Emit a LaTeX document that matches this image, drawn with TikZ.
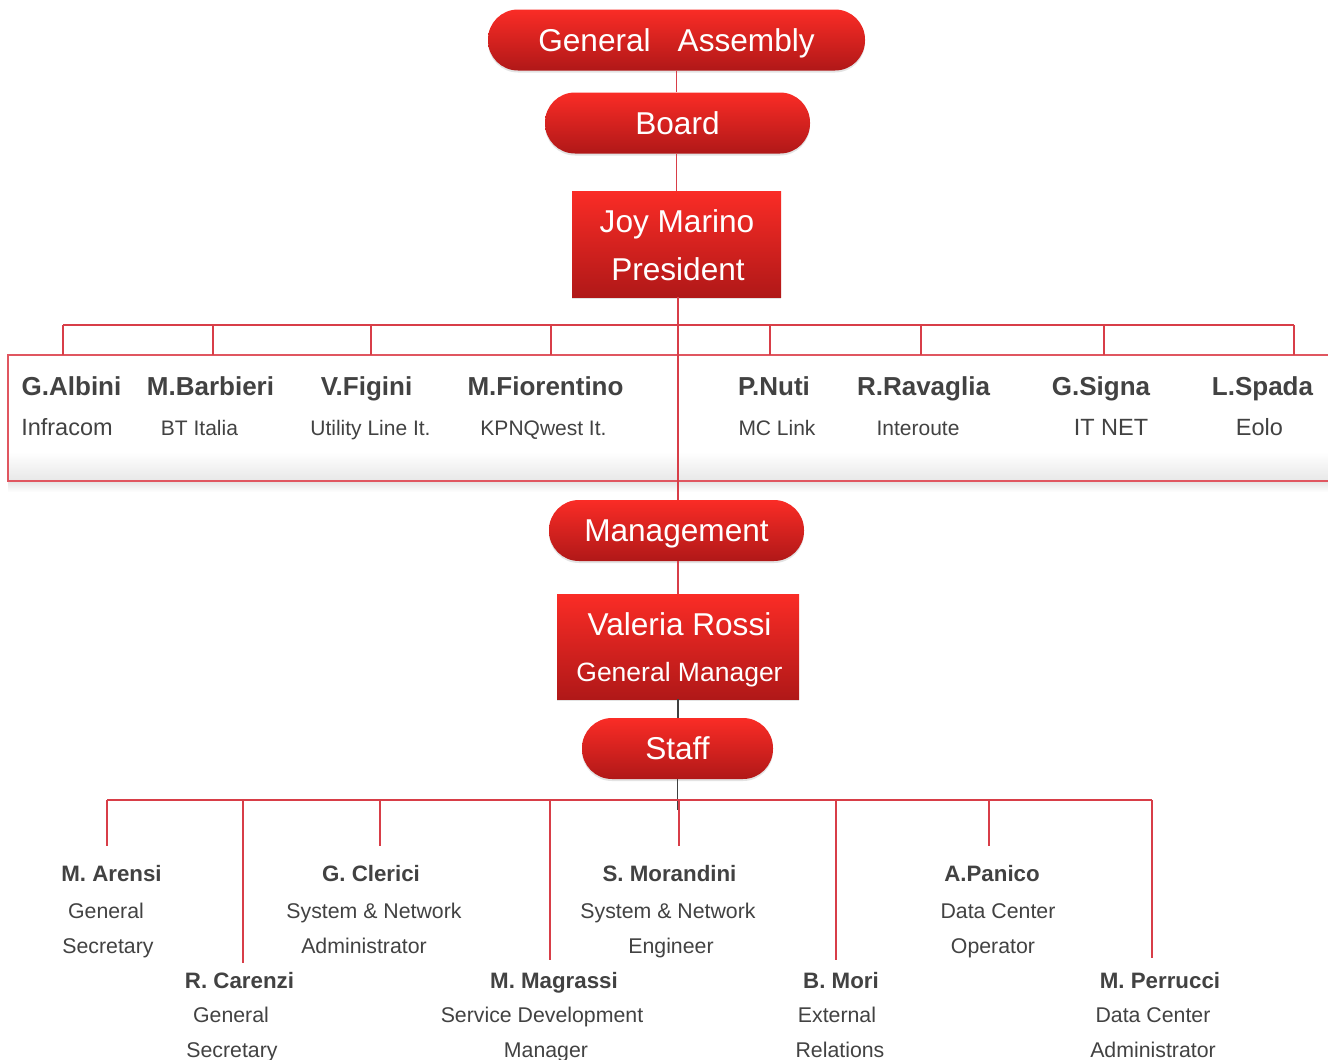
\documentclass[tikz,border=0pt]{standalone}
\usepackage{fontspec}
\setmainfont{Liberation Sans}
\usetikzlibrary{shadows}
\definecolor{redtop}{RGB}{250,44,38}
\definecolor{redbot}{RGB}{176,24,24}
\definecolor{linered}{RGB}{216,62,72}
\definecolor{boxred}{RGB}{224,86,96}
\definecolor{txt}{RGB}{66,66,66}
\begin{document}
\begin{tikzpicture}[x=1pt,y=-1pt,
  redshape/.style={top color=redtop,bottom color=redbot,draw=none,text=white,inner sep=0pt,
    drop shadow={shadow xshift=0pt,shadow yshift=-2pt,opacity=0.22}},
  pill/.style={redshape,rounded corners=30pt,minimum height=61pt,
    font=\fontsize{31.6}{36}\selectfont,text height=22pt,text depth=0pt},
  rbox/.style={redshape,minimum height=106pt},
  wt/.style={text=white,inner sep=0pt,anchor=base},
  conn/.style={draw=linered,line width=1.2pt},
  darkconn/.style={draw=black!75,line width=1.2pt},
  bname/.style={text=txt,inner sep=0pt,anchor=base,font=\fontsize{26}{30}\selectfont\bfseries},
  bcomp/.style={text=txt,inner sep=0pt,anchor=base,font=\fontsize{21}{25}\selectfont},
  bcompL/.style={bcomp,font=\fontsize{23.5}{27}\selectfont},
  sname/.style={text=txt,inner sep=0pt,anchor=base,font=\fontsize{22.3}{27}\selectfont\bfseries},
  ssub/.style={text=txt,inner sep=0pt,anchor=base,font=\fontsize{21.3}{25}\selectfont},
]
\useasboundingbox[fill=white] (0,0) rectangle (1328,1060);

% ---------- top red shapes ----------
\node[pill,minimum width=377pt] (ga) at (676.5,40) {General\hspace{27pt}Assembly};
\node[pill,minimum width=265pt] (board) at (677.5,123) {Board};
\node[rbox,minimum width=209pt] (joy) at (676.5,244) {};
\node[wt,font=\fontsize{31.6}{36}\selectfont] (joyname) at (677,232) {Joy Marino};
\node[wt,font=\fontsize{31.6}{36}\selectfont] (joyrole) at (678,280) {President};

% ---------- board members box ----------
\fill[top color=white,bottom color=black!9,draw=none] (9,452) rectangle (1335,480);
\fill[top color=black!10,bottom color=white,draw=none] (8,482) rectangle (1335,492);
\node[draw=boxred,line width=1.2pt,minimum width=1332pt,minimum height=126pt,inner sep=0pt] (members) at (674,418) {};

% connectors of the top part
\coordinate (axis) at (676.5,0);
\draw[conn] (ga.south -| axis) -- (board.north -| axis);
\draw[conn] (board.south -| axis) -- (joy.north -| axis);

% bus above members
\coordinate (busL) at (63,325);
\coordinate (busR) at (1294,325);
\draw[conn] (busL) -- (busR);
\foreach \x/\n in {63/a,213/b,371/c,551/d,770/e,921/f,1104/g,1294/h}{
  \coordinate (mt\n) at (\x,355);
  \draw[conn] (\x,325) -- (mt\n);
}

% member names
\node[bname] (albini) at (71.5,395) {G.Albini};
\node[bname] (barbieri) at (210.5,395) {M.Barbieri};
\node[bname] (figini) at (366.5,395) {V.Figini};
\node[bname] (fiorentino) at (545.5,395) {M.Fiorentino};
\node[bname] (nuti) at (774,395) {P.Nuti};
\node[bname] (ravaglia) at (923.5,395) {R.Ravaglia};
\node[bname] (signa) at (1101,395) {G.Signa};
\node[bname] (spada) at (1262.5,395) {L.Spada};

\node[bcompL] (infracom) at (67,435) {Infracom};
\node[bcomp] (bt) at (199.5,435) {BT Italia};
\node[bcomp] (utility) at (370.5,435) {Utility Line It.};
\node[bcomp] (kpn) at (543.5,435) {KPNQwest It.};
\node[bcomp] (mclink) at (777,435) {MC Link};
\node[bcomp] (interoute) at (918,435) {Interoute};
\node[bcompL] (itnet) at (1111,435) {IT NET};
\node[bcompL] (eolo) at (1259.5,435) {Eolo};

% ---------- management ----------
\node[pill,minimum width=255pt] (mgmt) at (676.5,530.5) {Management};
\coordinate (axisb) at (678,0);
\draw[conn] (joy.south -| axisb) -- (mgmt.north -| axisb);
\node[rbox,minimum width=242pt,minimum height=105pt] (valeria) at (678,646.5) {};
\node[wt,font=\fontsize{31.6}{36}\selectfont] (valname) at (679.5,635) {Valeria Rossi};
\node[wt,font=\fontsize{26.5}{30}\selectfont] (valrole) at (679.5,681) {General Manager};
\draw[conn] (mgmt.south -| axisb) -- (valeria.north -| axisb);
\node[pill,minimum width=191pt] (staff) at (677.5,748.5) {Staff};
\draw[darkconn] (valeria.south -| axisb) -- (staff.north -| axisb);
\coordinate (sbusjoin) at (677.5,810);
\draw[darkconn] (staff.south) -- (sbusjoin);

% staff bus
\coordinate (sbusL) at (107,800);
\coordinate (sbusR) at (1152,800);
\draw[conn] (sbusL) -- (sbusR);
\foreach \x/\y/\n in {107/846/a,243/963/b,380/846/c,550/960/d,679/846/e,836/960/f,989/846/g,1152/958/h}{
  \coordinate (st\n) at (\x,\y);
  \draw[conn] (\x,800) -- (st\n);
}

% staff row 1
\node[sname] (arensi) at (111.5,881) {M. Arensi};
\node[ssub] (arensi1) at (106,918) {General};
\node[ssub] (arensi2) at (108,953) {Secretary};
\node[sname] (clerici) at (371,881) {G. Clerici};
\node[ssub] (clerici1) at (374,918) {System \& Network};
\node[ssub] (clerici2) at (364,953) {Administrator};
\node[sname] (morandini) at (669.5,881) {S. Morandini};
\node[ssub] (morandini1) at (668,918) {System \& Network};
\node[ssub] (morandini2) at (671,953) {Engineer};
\node[sname] (panico) at (992,881) {A.Panico};
\node[ssub] (panico1) at (998,918) {Data Center};
\node[ssub] (panico2) at (993,953) {Operator};

% staff row 2
\node[sname] (carenzi) at (239.5,988) {R. Carenzi};
\node[ssub] (carenzi1) at (231,1022.5) {General};
\node[ssub] (carenzi2) at (232,1057) {Secretary};
\node[sname] (magrassi) at (554,988) {M. Magrassi};
\node[ssub] (magrassi1) at (542,1022.5) {Service Development};
\node[ssub] (magrassi2) at (546,1057) {Manager};
\node[sname] (mori) at (841,988) {B. Mori};
\node[ssub] (mori1) at (837,1022.5) {External};
\node[ssub] (mori2) at (840,1057) {Relations};
\node[sname] (perrucci) at (1160,988) {M. Perrucci};
\node[ssub] (perrucci1) at (1153,1022.5) {Data Center};
\node[ssub] (perrucci2) at (1153,1057) {Administrator};
\end{tikzpicture}
\end{document}
